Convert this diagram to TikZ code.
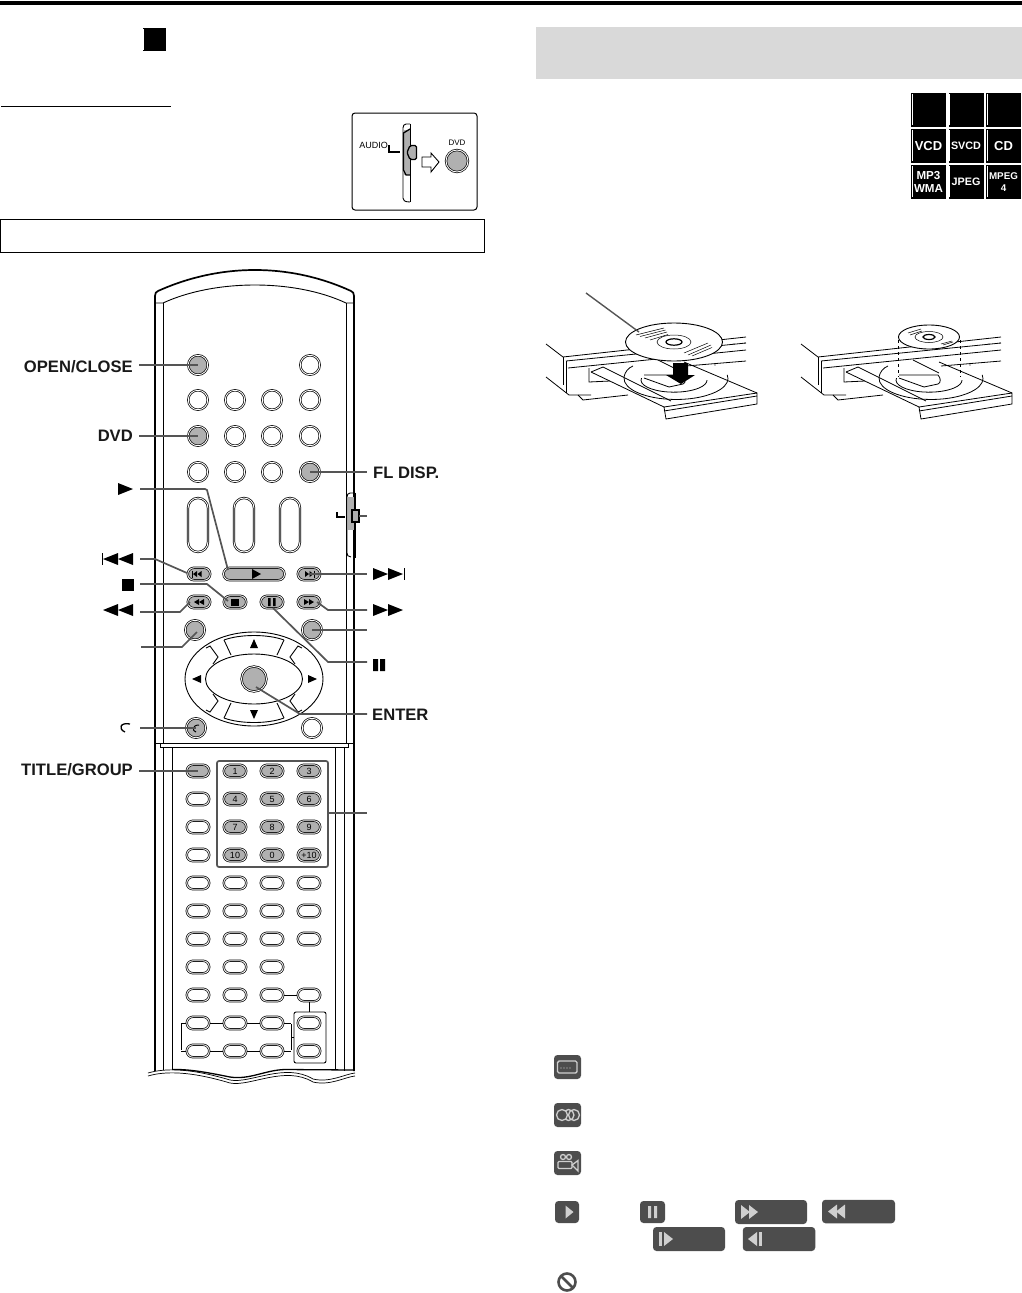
\documentclass[tikz,border=0pt]{standalone}
\usepackage{fontspec}
\setmainfont{Liberation Sans}
\usepackage{xcolor}
\usetikzlibrary{shapes.misc, shapes.geometric}
\definecolor{leadgray}{HTML}{555555}
\definecolor{keygray}{HTML}{B0B0B0}
\definecolor{icondark}{HTML}{4D4D4D}
\definecolor{iconlight}{HTML}{CFCFCF}
\newcommand{\rtri}[5][black]{\fill[#1] (#2,#3-#5) -- (#2+#4,#3) -- (#2,#3+#5) -- cycle;}
\newcommand{\ltri}[5][black]{\fill[#1] (#2,#3) -- (#2+#4,#3-#5) -- (#2+#4,#3+#5) -- cycle;}
\tikzset{
  rndkey/.style={circle, draw=black, line width=.7pt, double=white, double distance=.9pt, fill=white, minimum size=19.5pt, inner sep=0pt},
  pillkey/.style={rounded rectangle, draw=black, line width=.7pt, double=white, double distance=.9pt, fill=white, minimum width=22.5pt, minimum height=12.5pt, inner sep=0pt, font=\fontsize{9}{9}\selectfont},
  lead/.style={line width=1.7pt, leadgray},
  lbl/.style={font=\bfseries\fontsize{16.6}{17}\selectfont, text=black!90, inner sep=0pt},
  fmtbox/.style={fill=black, minimum width=35pt, minimum height=34pt, inner sep=0pt, text=white, align=center, font=\bfseries\fontsize{13}{13}\selectfont},
  osdicon/.style={fill=icondark, rounded corners=3.5pt, inner sep=0pt},
  thin line/.style={line width=.9pt}
}
\begin{document}
\begin{tikzpicture}[x=1pt, y=-1pt]
\useasboundingbox (0,0) rectangle (1022,1293);

% Page rule and heading marks
\fill[black] (0,1) rectangle (1022,5);
\node[fill=black, minimum width=23pt, minimum height=23pt, inner sep=0pt] (hdmark) at (154.5,39.5) {};
\draw[white, line width=.5pt] (143.5,29) -- (143.5,50);
\draw[line width=1pt] (1,106) -- (171,106);
\node[draw=black, line width=1pt, minimum width=484pt, minimum height=33pt, inner sep=0pt] (notebox) at (242.5,235.5) {};
\node[fill=black!15, minimum width=486pt, minimum height=52pt, inner sep=0pt] (band) at (779,53) {};

% Small switch picture
\node[draw=black, line width=1pt, rounded corners=3pt, minimum width=125pt, minimum height=97pt, inner sep=0pt] (swbox) at (414.5,161.5) {};
\node[inner sep=0pt, font=\fontsize{9}{9}\selectfont] (swaudio) at (373.5,145) {AUDIO};
\node[inner sep=0pt, font=\fontsize{8}{8}\selectfont] (swdvd) at (457,143) {DVD};
\draw[line width=1.3pt] (389,145) -- (389,152) -- (400,152);
\draw[thin line] (410,124) -- (406,124) .. controls (404,124) and (403,126) .. (403,128) -- (403,198) .. controls (403,200) and (404,202) .. (410,202);
\fill[keygray] (404,130) rectangle (410,175);
\draw[line width=1.3pt] (410,175) -- (406,175) -- (403.5,170) -- (403.5,133) -- (410,129);
\draw[line width=1.8pt] (410.5,124) -- (410.5,202);
\draw[line width=1.3pt, fill=keygray, rounded corners=1.5pt] (410,145.5) -- (416.5,145.5) -- (416.5,159.5) -- (410,159.5) -- (407,152.5) -- cycle;
\draw[thin line, fill=white] (422,157) -- (431,157) -- (431,153) -- (439,162) -- (431,172) -- (431,167) -- (422,167) -- cycle;
\node[rndkey, fill=keygray, minimum size=22pt] (swkey) at (457,161) {};

% Disc format marks
\node[fmtbox] (fmtA) at (928.5,110) {};
\node[fmtbox] (fmtB) at (966,110) {};
\node[fmtbox] (fmtC) at (1003.5,110) {};
\node[fmtbox] (fmtD) at (928.5,146) {VCD};
\node[fmtbox, font=\bfseries\fontsize{10.8}{11}\selectfont] (fmtE) at (966,146) {SVCD};
\node[fmtbox] (fmtF) at (1003.5,146) {CD};
\node[fmtbox, font=\bfseries\fontsize{11.6}{13}\selectfont] (fmtG) at (928.5,182) {MP3\\WMA};
\node[fmtbox, font=\bfseries\fontsize{10.8}{11}\selectfont] (fmtH) at (966,182) {JPEG};
\node[fmtbox, font=\bfseries\fontsize{9.8}{12}\selectfont] (fmtI) at (1003.5,182) {MPEG\\4};
\foreach \px in {912,949.5,987}
  \foreach \py in {94,130,166}
    \draw[white, line width=.4pt] (\px,\py) -- (\px,\py+31);

% Player with open tray, drawn twice
\foreach \dx in {0,255} {
\begin{scope}[shift={(\dx,0)}, line width=.8pt]
\draw (546,344) -- (563,357) -- (746,337);
\draw (566,361) -- (746,343);
\draw (568,368) -- (746,350);
\draw (563,357) -- (563,385);
\draw (566,361) -- (566,393);
\draw (546,377) -- (569,395) -- (591,395);
\draw (578,395) -- (583,400) -- (628,395);
\draw (589,368) -- (589,382) -- (610,381);
\draw (746,361) -- (686,366);
% recess of the tray
\draw (676,377) ++(178:52 and 21) arc[start angle=178, end angle=370, x radius=52, y radius=-21];
\draw (674,376) ++(170:33 and 12) arc[start angle=170, end angle=360, x radius=33, y radius=-12];
\draw (624,377) .. controls (625,372) and (628,368) .. (633,366);
% tray and its front panel
\draw[fill=white] (664,407) -- (757,393) -- (757,404) -- (666,419) -- cycle;
\draw (664,411) -- (757,396);
\draw (591,372) -- (664,407);
\draw (591,372) -- (603,367) -- (671,401);
\draw (684,362) -- (757,393);
\draw (644,375) -- (683,375) .. controls (686,378) and (686,383) .. (683,384) -- (669,387) -- (644,378);
\draw (658,360) -- (684,373);
\fill (715,365) circle[radius=.7];
\fill (734,344) circle[radius=.7];
\fill (745,343) circle[radius=.7];
\end{scope}
}

% Disc above the left tray
\node[draw=black, line width=.9pt, fill=white, ellipse, minimum width=97pt, minimum height=38pt, inner sep=0pt] (discA) at (674,342) {};
\draw[line width=.5pt] (discA.center) ellipse[x radius=17, y radius=7];
\draw[line width=1.2pt] (discA.center) ellipse[x radius=8, y radius=3.2];
\draw[line width=.5pt] (636,335) -- (664,328) (640,336.5) -- (665.5,330) (645,338) -- (667,332) (650,340) -- (668,334.5);
\draw[line width=.5pt] (684,353) -- (708,343) (688,355) -- (711,345) (692,356) -- (712,347.5);
\fill (673,363) -- (688,363) -- (688,375) -- (695,375) -- (681,384) -- (666,375) -- (673,375) -- cycle;
\coordinate (discend) at (586,293);
\coordinate (discpt) at (639,332);
\draw[line width=1.4pt, leadgray] (discend) -- (discpt);

% Disc above the right tray
\draw[line width=.9pt, dashed] (898,340) -- (898,377) (960,340) -- (960,377);
\node[draw=black, line width=.9pt, fill=white, ellipse, minimum width=61pt, minimum height=24pt, inner sep=0pt] (discB) at (929,337) {};
\draw[line width=.5pt] (discB.center) ellipse[x radius=14, y radius=5.5];
\draw[line width=1.2pt] (discB.center) ellipse[x radius=6, y radius=2.5];
\draw[line width=.5pt] (908,333) -- (921,329) (910,335) -- (922,331) (941,344) -- (952,341) (943,345) -- (953,342);

% Remote body
\draw[line width=1.7pt] (155,1071) -- (155,296) .. controls (155,293) and (156,292) .. (158,291) .. controls (220,263) and (290,263) .. (351,291) .. controls (353,292) and (354,293) .. (354,296) -- (354,1071);
\draw[line width=.9pt] (155,303) -- (163,303) .. controls (215,279) and (295,279) .. (346,303) -- (354,303);
\draw[line width=.9pt] (163,303) -- (163,743) (346,303) -- (346,743);
\draw[line width=1pt] (155,743) -- (354,743);
\draw[line width=.9pt] (160,743) -- (160,747) -- (348,747) -- (348,743);
\draw[line width=.9pt] (163,747) -- (163,1071) (172,747) -- (172,1069);
\draw[line width=.9pt] (335,747) -- (335,1070) (344,747) -- (344,1071);

% Side slider of the remote
\draw[line width=.9pt] (355,493) -- (350,493) .. controls (348,493) and (347,495) .. (347,497) -- (347,553) .. controls (347,555) and (348,557) .. (351,557);
\draw[line width=1.5pt] (355,493) -- (355,558);
\fill[keygray] (348,497) rectangle (354,530);
\draw[line width=1.1pt, fill=keygray] (352,510) rectangle (359,522);
\draw[line width=1.3pt] (337,512) -- (337,517) -- (345,517);

% Round keys at the top
\node[rndkey, fill=keygray] (kOpen) at (198,365) {};
\node[rndkey] (kTop) at (310,365) {};
\foreach \cx [count=\ci] in {198,235,272,310} {
  \node[rndkey] (kA\ci) at (\cx,400) {};
}
\node[rndkey, fill=keygray] (kDvd) at (198,436) {};
\node[rndkey] (kB2) at (235,436) {};
\node[rndkey] (kB3) at (272,436) {};
\node[rndkey] (kB4) at (310,436) {};
\node[rndkey] (kC1) at (198,472) {};
\node[rndkey] (kC2) at (235,472) {};
\node[rndkey] (kC3) at (272,472) {};
\node[rndkey, fill=keygray] (kFl) at (310,472) {};

% Tall keys
\foreach \cx [count=\ci] in {198,244,290} {
  \node[rounded rectangle, rounded rectangle arc length=180, rotate=90, draw=black, line width=.7pt, double=white, double distance=.9pt, fill=white, minimum width=54pt, minimum height=20pt, inner sep=0pt] (kTall\ci) at (\cx,525) {};
}

% Transport keys
\node[pillkey, fill=keygray] (kPrev) at (199,574) {};
\node[pillkey, fill=keygray, minimum width=61pt] (kPlay) at (254,574) {};
\node[pillkey, fill=keygray] (kNext) at (309,574) {};
\node[pillkey, fill=keygray] (kRew) at (199,602) {};
\node[pillkey, fill=keygray] (kStop) at (235,602) {};
\node[pillkey, fill=keygray] (kPause) at (272,602) {};
\node[pillkey, fill=keygray] (kFwd) at (309,602) {};
\draw[line width=.7pt] (192,570.5) -- (192,577.5);
\ltri{193}{574}{4}{3}
\ltri{197.5}{574}{4}{3}
\rtri{252}{574}{9}{5}
\rtri{305}{574}{4}{3}
\rtri{309.5}{574}{4}{3}
\draw[line width=.7pt] (314,570.5) -- (314,577.5);
\ltri{194}{602}{5}{3}
\ltri{199}{602}{5}{3}
\fill (231,598.5) rectangle (238.5,605.5);
\fill (268,598) rectangle (270.5,606) (273,598) rectangle (275.5,606);
\rtri{304}{602}{5}{3}
\rtri{309}{602}{5}{3}

% Cursor pad
\node[rndkey, fill=keygray] (kLeftRnd) at (195,630) {};
\node[rndkey, fill=keygray] (kRightRnd) at (312,630) {};
\node[ellipse, draw=black, line width=.9pt, minimum width=138pt, minimum height=94pt, inner sep=0pt] (padOut) at (254,679) {};
\node[ellipse, draw=black, line width=.9pt, minimum width=97pt, minimum height=50pt, inner sep=0pt] (padIn) at (254,679) {};
\draw[line width=.9pt] (224,640) .. controls (240,634) and (268,634) .. (284,640);
\draw[line width=.9pt] (224,640) -- (231,655) (284,640) -- (277,655);
\draw[line width=.9pt] (224,718) .. controls (240,724) and (268,724) .. (284,718);
\draw[line width=.9pt] (224,718) -- (231,703) (284,718) -- (277,703);
\draw[line width=.9pt] (206,648) -- (210,646) -- (218,657) -- (213,664);
\draw[line width=.9pt] (206,710) -- (210,712) -- (218,701) -- (213,694);
\draw[line width=.9pt] (302,648) -- (298,646) -- (290,657) -- (295,664);
\draw[line width=.9pt] (302,710) -- (298,712) -- (290,701) -- (295,694);
\fill (254,639) -- (258,648) -- (250,648) -- cycle;
\fill (254,719) -- (258,710) -- (250,710) -- cycle;
\ltri{192}{679}{9}{4}
\rtri{308}{679}{9}{4}
\node[rndkey, fill=keygray, minimum size=25pt] (kEnter) at (254,679) {};
\node[rndkey, fill=keygray] (kRet) at (196,728) {};
\node[rndkey] (kBotRnd) at (312,728) {};
\draw[line width=1pt] (199,725) .. controls (192,725) and (192,731) .. (196,732);

% Lower key field
\node[pillkey, fill=keygray] (kTitle) at (198,771) {};
\foreach \ry [count=\ri] in {799,827,855} {
  \node[pillkey] (kLeft\ri) at (198,\ry) {};
}
\node[pillkey, fill=keygray] (kN1) at (235,771) {1};
\node[pillkey, fill=keygray] (kN2) at (272,771) {2};
\node[pillkey, fill=keygray] (kN3) at (309,771) {3};
\node[pillkey, fill=keygray] (kN4) at (235,799) {4};
\node[pillkey, fill=keygray] (kN5) at (272,799) {5};
\node[pillkey, fill=keygray] (kN6) at (309,799) {6};
\node[pillkey, fill=keygray] (kN7) at (235,827) {7};
\node[pillkey, fill=keygray] (kN8) at (272,827) {8};
\node[pillkey, fill=keygray] (kN9) at (309,827) {9};
\node[pillkey, fill=keygray] (kN10) at (235,855) {10};
\node[pillkey, fill=keygray] (kN0) at (272,855) {0};
\node[pillkey, fill=keygray] (kN11) at (309,855) {+10};
\node[draw=leadgray, line width=1.7pt, rounded corners=2pt, minimum width=111pt, minimum height=106pt, inner sep=0pt] (numbox) at (272.5,814) {};

\foreach \ry in {883,911,939} {
  \foreach \cx in {198,235,272,309} {
    \node[pillkey] (k\cx\ry) at (\cx,\ry) {};
  }
}
\foreach \cx in {198,235,272} {
  \node[pillkey] (k\cx R) at (\cx,967) {};
}

% Keys that are joined by lines
\draw[thin line] (181,1024) -- (181,1050) (291,1024) -- (291,1050);
\draw[thin line] (181,1023) -- (291,1023) (181,1051) -- (291,1051);
\draw[thin line] (272,995) -- (309,995);
\draw[thin line] (309,995) -- (309,1012);
\draw[thin line] (291,1037) -- (294,1037);
\node[draw=black, line width=.9pt, rounded corners=2pt, minimum width=32pt, minimum height=51pt, inner sep=0pt] (sidebox) at (310,1037.5) {};
\foreach \ry in {995,1023,1051} {
  \foreach \cx in {198,235,272,309} {
    \node[pillkey] (k\cx\ry) at (\cx,\ry) {};
  }
}

% Torn edge of the remote
\fill[white] (146,1073) .. controls (165,1068) and (190,1068) .. (230,1080) .. controls (250,1084) and (285,1062) .. (313,1079) .. controls (330,1083) and (345,1074) .. (356,1073) -- (356,1087) -- (146,1087) -- cycle;
\draw[line width=.7pt] (148,1073) .. controls (165,1068) and (190,1068) .. (230,1080) .. controls (250,1084) and (285,1062) .. (313,1079) .. controls (330,1083) and (345,1074) .. (355,1073);
\draw[line width=.7pt] (148,1076) .. controls (165,1071) and (190,1071) .. (230,1083) .. controls (250,1087) and (285,1065) .. (313,1082) .. controls (330,1086) and (345,1077) .. (355,1076);
\draw[line width=1.3pt] (172,1069.5) .. controls (190,1069) and (210,1073) .. (230,1077) .. controls (250,1080) and (265,1070) .. (285,1069.5) -- (354,1070);

% Labels on the left
\node[lbl, anchor=east] (tOpen) at (133,367) {OPEN/CLOSE};
\node[lbl, anchor=east] (tDvd) at (133,436) {DVD};
\node[lbl, anchor=east] (tTitle) at (133,770) {TITLE/GROUP};
\rtri{118}{489}{15}{6}
\ltri{103}{559}{15}{6}
\ltri{118}{559}{15}{6}
\draw[line width=1pt] (102,553) -- (102,565);
\fill (122,579) rectangle (134,591);
\ltri{103}{610}{15}{6}
\ltri{118}{610}{15}{6}
\draw[line width=1.3pt] (130,724) .. controls (120,722) and (118,729) .. (125,732);

% Labels on the right
\node[lbl, anchor=west] (tFl) at (373,473) {FL DISP.};
\node[lbl, anchor=west] (tEnter) at (372,715) {ENTER};
\rtri{373}{574}{15}{6}
\rtri{388}{574}{15}{6}
\draw[line width=1pt] (404,568) -- (404,580);
\rtri{373}{610}{15}{6}
\rtri{388}{610}{15}{6}
\fill (373,659) rectangle (378,671) (380,659) rectangle (385,671);

% Leader lines
\coordinate (sOpen) at (139,365);
\coordinate (sDvd) at (139,436);
\coordinate (sTitle) at (139,771);
\coordinate (sRet) at (140,728);
\coordinate (sPlay) at (140,489);
\coordinate (sPrev) at (140,559);
\coordinate (sStop) at (140,584);
\coordinate (sRew) at (140,612);
\coordinate (sLeftRnd) at (141,647);
\coordinate (eFl) at (367,472);
\coordinate (eNext) at (367,574);
\coordinate (eFwd) at (367,610);
\coordinate (eRightRnd) at (367,630);
\coordinate (ePause) at (367,662);
\coordinate (eEnter) at (367,714);
\coordinate (eNum) at (367,813);
\coordinate (eSlide) at (367,516);
\draw[lead] (sOpen) -- (kOpen.center);
\draw[lead] (sDvd) -- (kDvd.center);
\draw[lead] (kFl.center) -- (eFl);
\draw[lead] (sPlay) -- (205,489) -- (207,490) -- (228,570);
\draw[lead] (sPrev) -- (155,559) -- (187,573);
\draw[lead] (sStop) -- (207,584) -- (228,601);
\draw[lead] (sRew) -- (180,612) -- (190,602);
\draw[lead] (sLeftRnd) -- (182,647) -- (197,632);
\draw[lead] (sRet) -- (kRet.center);
\draw[lead] (sTitle) -- (kTitle.center);
\draw[lead] (kNext.center) -- (eNext);
\draw[lead] (317,602) -- (328,610) -- (eFwd);
\draw[lead] (kRightRnd.center) -- (eRightRnd);
\draw[lead] (273,608) -- (328,662) -- (ePause);
\draw[lead] (256,687) -- (300,714) -- (eEnter);
\draw[lead] (numbox.east |- eNum) -- (eNum);
\draw[lead] (359,516) -- (eSlide);

% On-screen icons
\node[osdicon, minimum width=27pt, minimum height=24pt] (icSub) at (567.5,1067) {};
\draw[iconlight, line width=1.4pt, rounded corners=1.5pt] (557.5,1061) rectangle (577,1073);
\fill[iconlight] (561,1068) circle[radius=.7] (564,1068) circle[radius=.7] (567,1068) circle[radius=.7] (570,1068) circle[radius=.7];
\node[osdicon, minimum width=27pt, minimum height=24pt] (icAudio) at (567.5,1115) {};
\draw[iconlight, line width=1.3pt] (574,1115) circle[radius=5.5];
\draw[iconlight, line width=1.3pt] (568.5,1115) circle[radius=5.5];
\draw[iconlight, line width=1.3pt, fill=icondark] (562,1115) circle[radius=5.5];
\node[osdicon, minimum width=27pt, minimum height=24pt] (icAngle) at (567.5,1163) {};
\draw[iconlight, line width=1.3pt] (563,1157) circle[radius=2.5] (569,1157) circle[radius=2.5];
\draw[iconlight, line width=1.3pt, rounded corners=1pt] (558,1161.5) rectangle (572,1168.5);
\draw[iconlight, line width=1.3pt] (572,1165) -- (578,1160.5) -- (578,1171) -- cycle;
\node[osdicon, minimum width=24pt, minimum height=22pt] (icPlay) at (567,1212) {};
\rtri[iconlight]{565.5}{1212}{8}{6.5}
\node[osdicon, minimum width=25pt, minimum height=22pt] (icPause) at (652.5,1212) {};
\fill[iconlight] (648,1206) rectangle (651,1218) (654,1206) rectangle (657,1218);
\node[osdicon, minimum width=72pt, minimum height=24pt] (icFwd) at (771,1212) {};
\rtri[iconlight]{741}{1212}{9}{7}
\rtri[iconlight]{749}{1212}{9}{7}
\node[osdicon, minimum width=73pt, minimum height=23.5pt] (icRew) at (858.5,1211.5) {};
\ltri[iconlight]{828}{1211.5}{9}{7}
\ltri[iconlight]{836}{1211.5}{9}{7}
\node[osdicon, minimum width=72pt, minimum height=24pt] (icStep) at (689,1239) {};
\fill[iconlight] (659,1232) rectangle (662,1246);
\rtri[iconlight]{664}{1239}{9}{7}
\node[osdicon, minimum width=72.5pt, minimum height=24pt] (icBack) at (779,1239) {};
\fill[iconlight] (759,1232) rectangle (762,1246);
\ltri[iconlight]{748}{1239}{9}{7}
\node[circle, draw=icondark, line width=2.6pt, minimum size=17pt, inner sep=0pt] (icNo) at (567,1282) {};
\draw[icondark, line width=2.6pt] (561.5,1276.5) -- (572.5,1287.5);
\end{tikzpicture}
\end{document}
